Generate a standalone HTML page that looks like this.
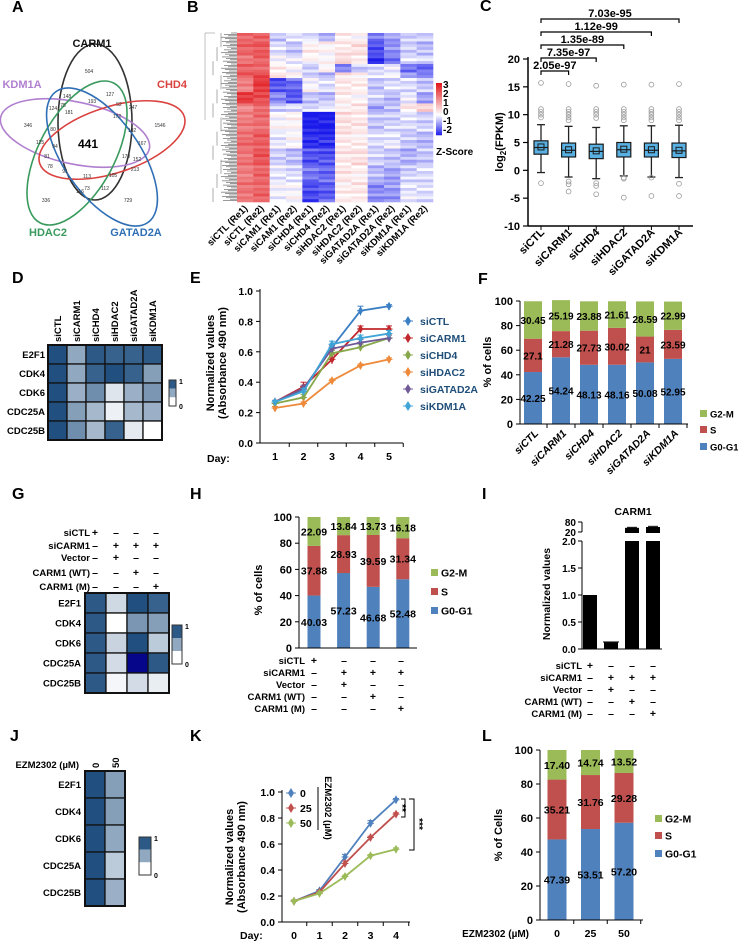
<!DOCTYPE html>
<html><head><meta charset="utf-8"><style>
html,body{margin:0;padding:0;background:#fff;}
svg{display:block;font-family:"Liberation Sans",Arial,sans-serif;}
text{font-family:"Liberation Sans",Arial,sans-serif;}
</style></head><body>
<svg id="fig" width="738" height="944" viewBox="0 0 738 944" xmlns="http://www.w3.org/2000/svg">
<rect width="738" height="944" fill="#fff"/>
<g font-weight="bold" font-size="16" fill="#000">
<text x="12" y="12">A</text>
<text x="187" y="12">B</text>
<text x="480" y="11">C</text>
<text x="12" y="283">D</text>
<text x="190" y="283">E</text>
<text x="478" y="284">F</text>
<text x="12" y="499">G</text>
<text x="190" y="499">H</text>
<text x="482" y="499">I</text>
<text x="10" y="741">J</text>
<text x="190" y="741">K</text>
<text x="482" y="741">L</text>
</g>
<g fill="none" stroke-width="1.6">
<ellipse cx="95" cy="122" rx="37" ry="78" stroke="#333"/>
<ellipse cx="75" cy="133" rx="76" ry="31" transform="rotate(12 75 133)" stroke="#b07fd0"/>
<ellipse cx="112" cy="140" rx="76" ry="33" transform="rotate(-18 112 140)" stroke="#d9423f"/>
<ellipse cx="77" cy="153" rx="38" ry="79" transform="rotate(28 77 153)" stroke="#3a9a5e"/>
<ellipse cx="102" cy="157" rx="38" ry="80" transform="rotate(-35 102 157)" stroke="#2f6fb5"/>
</g>
<g font-weight="bold" font-size="11" text-anchor="middle">
<text x="92" y="47" fill="#111">CARM1</text>
<text x="22" y="88" fill="#b07fd0">KDM1A</text>
<text x="172" y="88" fill="#d9423f">CHD4</text>
<text x="48" y="236" fill="#3a9a5e">HDAC2</text>
<text x="136" y="236" fill="#2f6fb5">GATAD2A</text>
<text x="88" y="148" font-size="12" fill="#000">441</text>
</g>
<g id="vennNums" font-size="5" text-anchor="middle" fill="#333"></g>
<g id="dyn"></g>
</svg>
<script>
const NS='http://www.w3.org/2000/svg';
const root=document.getElementById('dyn');
function mk(tag,attrs,parent){const e=document.createElementNS(NS,tag);for(const k in attrs)e.setAttribute(k,attrs[k]);(parent||root).appendChild(e);return e;}
function txt(x,y,s,attrs,parent){const e=mk('text',Object.assign({x:x,y:y},attrs||{}),parent);e.textContent=s;return e;}
function nm(e,n){
return e;}

const vennNums=[['504',89,73],['148',67,98],['127',110,96],['193',92,103],['52',119,106],['247',133,109],['124',53,110],['75',63,107],['181',69,114],['172',117,118],['346',28,127],['1546',160,127],['80',53,131],['102',132,132],['125',40,144],['94',55,148],['167',142,145],['81',47,158],['170',126,158],['152',137,161],['78',50,168],['91',65,173],['113',87,178],['105',113,177],['213',135,171],['73',87,190],['116',80,193],['112',105,190],['336',46,202],['729',128,202]];
const vg=document.getElementById('vennNums');
vennNums.forEach(v=>{const t=txt(v[1],v[2],v[0],{},vg);nm(t,'venn-count');});

const bCols=['siCTL (Re1)','siCTL (Re2)','siCAM1 (Re1)','siCAM1 (Re2)','siCHD4 (Re1)','siCHD4 (Re2)','siHDAC2 (Re1)','siHDAC2 (Re2)','siGATAD2A (Re1)','siGATAD2A (Re2)','siKDM1A (Re1)','siKDM1A (Re2)'];
const bBandRows=[3,5,3,3,2,5,4,3,7,6,6,6,7];
const bBandVals=[
[2.0,2.0,-0.5,-0.3,-0.3,-0.6,0.2,0.1,-1.2,-0.8,-0.5,-0.4],
[2.0,2.2,-0.3,-0.5,0.2,0.1,0.3,0.4,-1.5,-1.0,-0.4,-0.6],
[1.8,2.0,0.0,-0.2,0.1,0.0,0.5,0.3,-1.8,-1.2,-0.3,-0.3],
[2.0,2.0,0.2,0.0,-0.5,0.1,-1.0,-0.5,-0.3,-0.2,-1.2,-1.4],
[2.2,2.3,0.3,0.2,-0.4,-0.6,0.3,0.2,-0.3,-0.1,-0.8,-1.0],
[1.6,2.6,-1.5,-1.3,0.0,-0.3,0.3,0.2,-0.5,-0.3,-0.3,-0.5],
[2.6,2.3,-1.0,-1.5,-0.5,-0.6,0.2,0.1,-0.4,-0.6,-0.2,-0.8],
[1.5,2.0,-0.5,-0.3,-0.4,-0.2,0.2,0.3,-0.8,-0.6,0.3,0.5],
[1.7,1.9,0.0,0.1,-2.0,-2.0,0.4,0.3,-0.5,-0.4,-0.3,-0.4],
[1.9,2.1,-0.2,0.0,-1.8,-1.8,0.3,0.2,-0.3,-0.2,-0.5,-0.6],
[1.8,2.2,-0.4,-0.6,-1.5,-1.5,0.3,0.4,-0.4,-0.5,-0.7,-0.5],
[1.7,2.0,-0.2,-0.3,-1.2,-1.3,0.3,0.2,-0.6,-0.8,-0.4,-0.3],
[1.8,2.0,-0.1,0.0,-1.6,-1.4,0.2,0.3,-1.0,-0.9,-0.2,-0.3]];
const bTexture=[0.2,-0.3,0.1,-0.1,0.35,-0.2,0.0];
const bZticks=['3','2','1','0','-1','-2'];
function zcol(z){z=Math.max(-2,Math.min(3,z));let r,g,b;
 if(z>=0){const t=z/3;r=255-(255-225)*t;g=255-(255-25)*t;b=255-(255-30)*t;}
 else{const t=-z/2;r=255-(255-25)*t;g=255-(255-25)*t;b=255-(255-235)*t;}
 return 'rgb('+Math.round(r)+','+Math.round(g)+','+Math.round(b)+')';}
(function(){
 const x0=237,x1=433,y0=33,y1=202;const cw=(x1-x0)/bCols.length;
 const nRows=bBandRows.reduce((a,b)=>a+b,0);const rh=(y1-y0)/nRows;
 const g=nm(mk('g',{}),'expression-heatmap');
 let r=0;
 bBandRows.forEach((n,bi)=>{for(let k=0;k<n;k++){bBandVals[bi].forEach((v,c)=>{
   const z=v+bTexture[(r+c*3)%7]*0.9;
   const cell=mk('rect',{x:x0+c*cw,y:y0+r*rh,width:cw+0.3,height:rh+0.3,fill:zcol(z)},g);
   nm(cell,'heatmap-cell');});r++;}});
 const dg=nm(mk('g',{stroke:'#555','stroke-width':0.6}),'row-dendrogram');
 for(let i=0;i<nRows*2;i++){const y=y0+i*rh/2;const len=6+((i*7)%11);mk('line',{x1:x0-len,y1:y,x2:x0,y2:y},dg);}
 for(let i=0;i<12;i++){const y=y0+i*(y1-y0)/12;mk('line',{x1:x0-16-(i%3)*4,y1:y,x2:x0-16-(i%3)*4,y2:y+(y1-y0)/12,stroke:'#777'},dg);}
 mk('line',{x1:205,y1:33,x2:205,y2:120,stroke:'#999'},dg);mk('line',{x1:205,y1:33,x2:215,y2:33,stroke:'#999'},dg);
 bCols.forEach((c,i)=>{const cx=x0+(i+0.5)*cw+3;const t=txt(cx,y1+7,c,{'text-anchor':'end','font-size':9.5,'font-weight':'bold',transform:'rotate(-45 '+cx+' '+(y1+7)+')'});nm(t,'heatmap-column-label');});
 const cb=nm(mk('g',{}),'zscore-colorbar');
 for(let i=0;i<40;i++){const z=3-5*i/40;mk('rect',{x:436,y:83+i*52/40,width:6,height:52/40+0.3,fill:zcol(z)},cb);}
 bZticks.forEach((s,i)=>{const t=txt(443,88+i*9,s,{'font-size':10,'font-weight':'bold'},cb);nm(t,'colorbar-tick');});
 const zt=txt(436,155,'Z-Score',{'font-size':10,'font-weight':'bold'});nm(zt,'colorbar-title');
})();

const cCats=['siCTL','siCARM1','siCHD4','siHDAC2','siGATAD2A','siKDM1A'];
const cQ1=[2.9,2.4,2.1,2.4,2.4,2.3];
const cMed=[4.1,3.6,3.4,3.7,3.6,3.5];
const cQ3=[5.3,4.9,4.7,5.0,4.9,4.9];
const cLo=[-0.4,-1.2,-1.5,-1.0,-1.2,-1.3];
const cHi=[8.2,7.9,7.7,8.0,8.0,8.1];
const cMean=[4.2,3.7,3.5,3.8,3.7,3.6];
const cOut=[[-2.3,9.5,10,10.5,11,15.7],[-2,-2.5,-3.8,9,9.5,10,10.5,11,15.5],[-2.3,-2.8,-4.3,9.4,10,10.5,11,15.2],[-1.3,-1.5,-4.9,9,9.5,10,10.5,11,15.4],[-1.3,-4.6,9,9.5,10,10.5,11,15.4],[-2.4,-4.6,9,9.5,10,10.5,11,15.5]];
const cTicks=[20,15,10,5,0,-5,-10];
const cPvals=['2.05e-97','7.35e-97','1.35e-89','1.12e-99','7.03e-95'];
(function(){
 const yS=v=>59+(20-v)*(226-59)/30, xS=i=>541+i*27.6;
 const g=nm(mk('g',{}),'boxplot-chart');
 nm(mk('line',{x1:528,y1:57,x2:528,y2:226,stroke:'#000','stroke-width':1.5},g),'y-axis');
 nm(mk('line',{x1:528,y1:226,x2:693,y2:226,stroke:'#000','stroke-width':1.5},g),'x-axis');
 cTicks.forEach(v=>{mk('line',{x1:523,y1:yS(v),x2:528,y2:yS(v),stroke:'#000','stroke-width':1.2},g);nm(txt(520,yS(v)+4,String(v),{'text-anchor':'end','font-size':11,'font-weight':'bold'},g),'y-tick-label');});
 const yt=txt(0,0,'',{'font-size':11,'font-weight':'bold','text-anchor':'middle',transform:'translate(503 142) rotate(-90)'},g);nm(yt,'y-axis-title');
 yt.innerHTML='log<tspan font-size="8" dy="3">2</tspan><tspan dy="-3">(FPKM)</tspan>';
 cCats.forEach((c,i)=>{const x=xS(i);
  mk('line',{x1:x,y1:226,x2:x,y2:230,stroke:'#000'},g);
  mk('line',{x1:x,y1:yS(cHi[i]),x2:x,y2:yS(cLo[i]),stroke:'#222','stroke-width':1.3},g);
  mk('line',{x1:x-4,y1:yS(cHi[i]),x2:x+4,y2:yS(cHi[i]),stroke:'#222','stroke-width':1.3},g);
  mk('line',{x1:x-4,y1:yS(cLo[i]),x2:x+4,y2:yS(cLo[i]),stroke:'#222','stroke-width':1.3},g);
  nm(mk('rect',{x:x-7,y:yS(cQ3[i]),width:14,height:yS(cQ1[i])-yS(cQ3[i]),fill:'#58b0e3',stroke:'#1a1a1a','stroke-width':1.2},g),'box-'+c);
  mk('line',{x1:x-7,y1:yS(cMed[i]),x2:x+7,y2:yS(cMed[i]),stroke:'#1a1a1a','stroke-width':1.2},g);
  nm(mk('rect',{x:x-3,y:yS(cMean[i])-3,width:6,height:6,fill:'none',stroke:'#1a1a1a'},g),'mean-marker');
  cOut[i].forEach(o=>nm(mk('circle',{cx:x,cy:yS(o),r:2.4,fill:'none',stroke:'#999','stroke-width':0.8},g),'outlier'));
  nm(txt(x+4,233,c,{'text-anchor':'end','font-size':11,'font-weight':'bold',transform:'rotate(-45 '+(x+4)+' 233)'},g),'x-tick-label');
 });
 cPvals.forEach((p,k)=>{const y=71-k*13;const xa=xS(0),xb=xS(k+1);
  nm(mk('path',{d:'M'+xa+' '+(y+4)+'V'+y+'H'+xb+'V'+(y+4),fill:'none',stroke:'#000','stroke-width':1.2},g),'significance-bracket');
  nm(txt((xa+xb)/2,y-2,p,{'text-anchor':'middle','font-size':11,'font-weight':'bold'},g),'p-value-label');});
})();

function hcol(v){if(v>1.2)return '#06068a';v=Math.max(0,Math.min(1,v));const r=255-(255-33)*v,g=255-(255-80)*v,b=255-(255-128)*v;return 'rgb('+Math.round(r)+','+Math.round(g)+','+Math.round(b)+')';}
function smallHeat(name,vals,rows,x0,y0,cw,rh,lblX){
 const g=nm(mk('g',{}),name);
 vals.forEach((row,r)=>row.forEach((v,c)=>nm(mk('rect',{x:x0+c*cw,y:y0+r*rh,width:cw,height:rh,fill:hcol(v),stroke:'#111','stroke-width':1.3},g),'heatmap-cell')));
 mk('rect',{x:x0,y:y0,width:cw*vals[0].length,height:rh*vals.length,fill:'none',stroke:'#111','stroke-width':2},g);
 rows.forEach((s,r)=>nm(txt(lblX,y0+r*rh+rh/2+3.5,s,{'text-anchor':'end','font-size':9.5,'font-weight':'bold'},g),'row-label'));
 return g;}
function scaleBar(name,x,y,w,h){const g=nm(mk('g',{}),name);
 mk('rect',{x:x,y:y,width:w,height:h/3,fill:hcol(0.95)},g);mk('rect',{x:x,y:y+h/3,width:w,height:h/3,fill:hcol(0.5)},g);mk('rect',{x:x,y:y+2*h/3,width:w,height:h/3,fill:'#fff'},g);
 mk('rect',{x:x,y:y,width:w,height:h,fill:'none',stroke:'#333','stroke-width':1},g);
 txt(x+w+3,y+4,'1',{'font-size':7,'font-weight':'bold'},g);txt(x+w+3,y+h+3,'0',{'font-size':7,'font-weight':'bold'},g);}
const geneRows=['E2F1','CDK4','CDK6','CDC25A','CDC25B'];

const dCols=['siCTL','siCARM1','siCHD4','siHDAC2','siGATAD2A','siKDM1A'];
const dVals=[[1,0.5,0.95,0.9,0.9,0.95],[1,0.5,0.9,1,0.9,0.55],[1,0.45,0.65,0.15,0.45,0.6],[1,0.55,0.4,0.08,0.4,0.45],[1,0.65,0.4,0.9,0.12,0]];
(function(){smallHeat('heatmap-d',dVals,geneRows,48,345,19,19,45);
 dCols.forEach((c,i)=>{const x=48+i*19+13;nm(txt(x,342,c,{'font-size':9.5,'font-weight':'bold',transform:'rotate(-90 '+x+' 342)'}),'column-label');});
 scaleBar('heatmap-d-scale',169,380,7,26);})();

const eDays=['1','2','3','4','5'];
const eNames=['siCTL','siCARM1','siCHD4','siHDAC2','siGATAD2A','siKDM1A'];
const eColors=['#3a7ec4','#c0282d','#86a84a','#ee8a3a','#6f5a96','#3fa4d6'];
const eVals=[[0.27,0.35,0.63,0.87,0.90],[0.27,0.37,0.55,0.75,0.75],[0.26,0.30,0.59,0.63,0.69],[0.23,0.26,0.41,0.51,0.55],[0.27,0.36,0.62,0.66,0.69],[0.27,0.34,0.65,0.69,0.72]];
const eErr=[[0.01,0.02,0.02,0.03,0.01],[0.01,0.03,0.03,0.02,0.02],[0.01,0.02,0.02,0.02,0.02],[0.01,0.01,0.01,0.01,0.01],[0.01,0.02,0.02,0.02,0.02],[0.01,0.02,0.02,0.02,0.02]];
const eTicks=[1.0,0.8,0.6,0.4,0.2,0.0];
function lineChart(name,days,vals,errs,colors,ticks,yS,xS,axX,axY,axR,tickX){
 const g=nm(mk('g',{}),name);
 nm(mk('line',{x1:axX,y1:yS(ticks[0])-2,x2:axX,y2:axY,stroke:'#000','stroke-width':1},g),'y-axis');
 nm(mk('line',{x1:axX,y1:axY,x2:axR,y2:axY,stroke:'#000','stroke-width':1},g),'x-axis');
 ticks.forEach(v=>{mk('line',{x1:axX-4,y1:yS(v),x2:axX,y2:yS(v),stroke:'#000'},g);nm(txt(tickX,yS(v)+4,v.toFixed(1),{'text-anchor':'end','font-size':10.5,'font-weight':'bold'},g),'y-tick-label');});
 const step=xS(1)-xS(0);
 days.forEach((d,i)=>{mk('line',{x1:xS(i)+step/2,y1:axY,x2:xS(i)+step/2,y2:axY+4,stroke:'#000'},g);nm(txt(xS(i),axY+17,d,{'text-anchor':'middle','font-size':10.5,'font-weight':'bold'},g),'x-tick-label');});
 vals.forEach((s,k)=>{const pts=s.map((v,i)=>xS(i)+','+yS(v)).join(' ');
  nm(mk('polyline',{points:pts,fill:'none',stroke:colors[k],'stroke-width':1.8},g),'series-line');
  s.forEach((v,i)=>{const x=xS(i),y=yS(v),e=errs[k][i];
   mk('line',{x1:x,y1:yS(v+e),x2:x,y2:yS(v-e),stroke:colors[k]},g);mk('line',{x1:x-3,y1:yS(v+e),x2:x+3,y2:yS(v+e),stroke:colors[k]},g);
   nm(mk('path',{d:'M'+x+' '+(y-3.5)+'L'+(x+2)+' '+y+'L'+x+' '+(y+3.5)+'L'+(x-2)+' '+y+'Z M'+(x-3.5)+' '+y+'H'+(x+3.5),fill:colors[k],stroke:colors[k],'stroke-width':1},g),'data-point');});});
 return g;}
(function(){const yS=v=>443-v*152,xS=i=>275+i*28.5;
 const g=lineChart('growth-chart-e',eDays,eVals,eErr,eColors,eTicks,yS,xS,260,443,403,253);
 nm(txt(207,462,'Day:',{'font-size':10.5,'font-weight':'bold'},g),'x-axis-title');
 nm(txt(0,0,'Normalized values',{'font-size':11,'font-weight':'bold','text-anchor':'middle',transform:'translate(214 363) rotate(-90)'},g),'y-axis-title');
 nm(txt(0,0,'(Absorbance 490 nm)',{'font-size':11,'font-weight':'bold','text-anchor':'middle',transform:'translate(226 363) rotate(-90)'},g),'y-axis-title-2');
 eNames.forEach((n,k)=>{const y=321+k*17;const lg=nm(mk('g',{},g),'legend-entry');
  mk('path',{d:'M408 '+(y-4)+'L410.5 '+y+'L408 '+(y+4)+'L405.5 '+y+'Z M403 '+y+'H413',fill:eColors[k],stroke:eColors[k]},lg);
  txt(420,y+4,n,{'font-size':10.5,'font-weight':'bold',fill:'#1f4e79'},lg);});})();

const phaseNames=['G0-G1','S','G2-M'];
const phaseColors=['#4f81bd','#c0504d','#9bbb59'];
function stacked(name,series,labels,xS,bw,yS,axX,axY,axR,ticks,fs){
 const g=nm(mk('g',{}),name);
 series[0].forEach((_,i)=>{let acc=0;series.forEach((s,k)=>{const v=s[i];
   nm(mk('rect',{x:xS(i)-bw/2,y:yS(acc+v),width:bw,height:yS(acc)-yS(acc+v),fill:phaseColors[k]},g),'bar-'+phaseNames[k]);
   nm(txt(xS(i),yS(acc+v/2)+4,labels?labels[k][i]:String(v),{'text-anchor':'middle','font-size':fs,'font-weight':'bold'},g),'bar-value');acc+=v;});});
 nm(mk('line',{x1:axX,y1:yS(100),x2:axX,y2:axY,stroke:'#000'},g),'y-axis');
 nm(mk('line',{x1:axX,y1:axY,x2:axR,y2:axY,stroke:'#000'},g),'x-axis');
 ticks.forEach(v=>{mk('line',{x1:axX-4,y1:yS(v),x2:axX,y2:yS(v),stroke:'#000'},g);nm(txt(axX-7,yS(v)+4,String(v),{'text-anchor':'end','font-size':11,'font-weight':'bold'},g),'y-tick-label');});
 return g;}
function legend3(g,x,ys,fs){[2,1,0].forEach((k,j)=>{const lg=nm(mk('g',{},g),'legend-entry');mk('rect',{x:x,y:ys[j]-4,width:7,height:7,fill:phaseColors[k]},lg);txt(x+10,ys[j]+3.5,phaseNames[k],{'font-size':fs||10.5,'font-weight':'bold'},lg);});}

const fCats=['siCTL','siCARM1','siCHD4','siHDAC2','siGATAD2A','siKDM1A'];
const fG1=[42.25,54.24,48.13,48.16,50.08,52.95];
const fS=[27.1,21.28,27.73,30.02,21,23.59];
const fG2=[30.45,25.19,23.88,21.61,28.59,22.99];
const fTicks=[0,20,40,60,80,100];
(function(){const yS=v=>424-v*1.23,xS=i=>533+i*28;
 const g=stacked('cell-cycle-chart-f',[fG1,fS,fG2],null,xS,18,yS,520,424,688,fTicks,10);
 fCats.forEach((c,i)=>{mk('line',{x1:xS(i)+14,y1:424,x2:xS(i)+14,y2:428,stroke:'#000'},g);nm(txt(xS(i)+6,434,c,{'text-anchor':'end','font-size':10.5,'font-style':'italic','font-weight':'bold',transform:'rotate(-45 '+(xS(i)+6)+' 434)'},g),'x-tick-label');});
 nm(txt(0,0,'% of cells',{'font-size':11,'font-weight':'bold','text-anchor':'middle',transform:'translate(491 362) rotate(-90)'},g),'y-axis-title');
 legend3(g,700,[414,430,447],9.5);})();

const signLabels=['siCTL','siCARM1','Vector','CARM1 (WT)','CARM1 (M)'];
const signTable=[['+','-','-','-'],['-','+','+','+'],['-','+','-','-'],['-','-','+','-'],['-','-','-','+']];
function signs(name,ys,xs,lblX,fs){const g=nm(mk('g',{}),name);
 signLabels.forEach((l,r)=>{nm(txt(lblX,ys[r]+4,l,{'text-anchor':'end','font-size':fs,'font-weight':'bold'},g),'condition-label');
  signTable[r].forEach((s,c)=>nm(txt(xs[c],ys[r]+4,s==='-'?'–':'+',{'text-anchor':'middle','font-size':fs+1,'font-weight':'bold'},g),'condition-sign'));});}
const gVals=[[0.95,0.22,1,0.9],[0.95,0,0.6,0.55],[0.95,0.25,1.02,0.3],[0.95,0.2,1.5,0.95],[0.95,0.05,0.2,0.1]];
(function(){signs('conditions-g',[532,545,557,572,586],[95,116,136,156],90,9.5);
 smallHeat('heatmap-g',gVals,geneRows,85,593,21,20,81);scaleBar('heatmap-g-scale',172,625,10,39);})();

const hG1=[40.03,57.23,46.68,52.48];
const hS=[37.88,28.93,39.59,31.34];
const hG2=[22.09,13.84,13.73,16.18];
const hTicks=[0,20,40,60,80,100];
(function(){const yS=v=>648-v*1.31,xS=i=>314+i*29.6;
 const g=stacked('cell-cycle-chart-h',[hG1,hS,hG2],null,xS,13,yS,299,648,417,hTicks,10.5);
 nm(txt(0,0,'% of cells',{'font-size':11,'font-weight':'bold','text-anchor':'middle',transform:'translate(262 590) rotate(-90)'},g),'y-axis-title');
 legend3(g,431,[573,592,611]);
 signs('conditions-h',[660,672,684,696,708],[314,344,373,401],305,9.5);})();

const iVals=[1.0,0.12,45,50];
const iErr=[0,0.01,3,4];
const iLowTicks=[0.0,0.5,1.0,1.5,2.0];
const iHighTicks=[20,80];
(function(){const yL=v=>649-v*54,yH=v=>532-(v-20)/60*10,xS=i=>590+i*21;
 const g=nm(mk('g',{}),'carm1-bar-chart');
 nm(txt(633,515,'CARM1',{'text-anchor':'middle','font-size':10.5,'font-weight':'bold'},g),'chart-title');
 iVals.forEach((v,i)=>{const x=xS(i)-7;
  if(v<=2){nm(mk('rect',{x:x,y:yL(v),width:14,height:649-yL(v),fill:'#000'},g),'bar');
   if(iErr[i])mk('line',{x1:x-1,y1:yL(v+iErr[i]),x2:x+15,y2:yL(v+iErr[i]),stroke:'#000'},g);}
  else{nm(mk('rect',{x:x,y:yL(2),width:14,height:649-yL(2),fill:'#000'},g),'bar');
   nm(mk('rect',{x:x,y:yH(v),width:14,height:yH(20)-yH(v)+1,fill:'#000'},g),'bar-upper');
   mk('line',{x1:x+2,y1:yH(v+iErr[i]),x2:x+12,y2:yH(v+iErr[i]),stroke:'#000'},g);}});
 nm(mk('line',{x1:582,y1:yL(2),x2:582,y2:649,stroke:'#000'},g),'y-axis-lower');
 nm(mk('line',{x1:582,y1:yH(80),x2:582,y2:yH(20),stroke:'#000'},g),'y-axis-upper');
 nm(mk('line',{x1:582,y1:649,x2:662,y2:649,stroke:'#000'},g),'x-axis');
 iLowTicks.forEach(v=>{mk('line',{x1:578,y1:yL(v),x2:582,y2:yL(v),stroke:'#000'},g);nm(txt(576,yL(v)+4,v.toFixed(1),{'text-anchor':'end','font-size':10,'font-weight':'bold'},g),'y-tick-label');});
 iHighTicks.forEach(v=>{mk('line',{x1:578,y1:yH(v),x2:582,y2:yH(v),stroke:'#000'},g);nm(txt(576,yH(v)+4,String(v),{'text-anchor':'end','font-size':10,'font-weight':'bold'},g),'y-tick-label');});
 nm(txt(0,0,'Normalized values',{'font-size':10.5,'font-weight':'bold','text-anchor':'middle',transform:'translate(550 594) rotate(-90)'},g),'y-axis-title');
 signs('conditions-i',[665,677,689,701,713],[590,611,632,653],582,9.5);})();

const jCols=['0','50'];
const jVals=[[1,0.55],[1,0.55],[1,0.5],[1,0.3],[1,0.45]];
(function(){smallHeat('heatmap-j',jVals,geneRows,85,771,20,27,81);
 nm(txt(79,768,'EZM2302 (µM)',{'text-anchor':'end','font-size':9.5,'font-weight':'bold'}),'treatment-label');
 jCols.forEach((c,i)=>{const x=85+i*20+14;nm(txt(x,768,c,{'font-size':9.5,'font-weight':'bold',transform:'rotate(-90 '+x+' 768)'}),'column-label');});
 scaleBar('heatmap-j-scale',139,837,12,38);})();

const kDays=['0','1','2','3','4'];
const kNames=['0','25','50'];
const kColors=['#4f81bd','#c0504d','#9bbb59'];
const kVals=[[0.16,0.24,0.50,0.76,0.94],[0.16,0.23,0.45,0.65,0.83],[0.16,0.22,0.35,0.51,0.56]];
const kErr=[[0.01,0.01,0.02,0.02,0.01],[0.01,0.01,0.02,0.01,0.01],[0.01,0.01,0.01,0.01,0.01]];
const kTicks=[1.0,0.8,0.6,0.4,0.2,0.0];
(function(){const yS=v=>922-v*130,xS=i=>294+i*25.5;
 const g=lineChart('growth-chart-k',kDays,kVals,kErr,kColors,kTicks,yS,xS,282,922,410,275);
 nm(txt(240,939,'Day:',{'font-size':10.5,'font-weight':'bold'},g),'x-axis-title');
 nm(txt(0,0,'Normalized values',{'font-size':11,'font-weight':'bold','text-anchor':'middle',transform:'translate(233 857) rotate(-90)'},g),'y-axis-title');
 nm(txt(0,0,'(Absorbance 490 nm)',{'font-size':11,'font-weight':'bold','text-anchor':'middle',transform:'translate(245 857) rotate(-90)'},g),'y-axis-title-2');
 kNames.forEach((n,k)=>{const y=793+k*15;const lg=nm(mk('g',{},g),'legend-entry');
  mk('path',{d:'M291 '+(y-4)+'L293.5 '+y+'L291 '+(y+4)+'L288.5 '+y+'Z M286 '+y+'H296',fill:kColors[k],stroke:kColors[k]},lg);
  txt(300,y+4,n,{'font-size':10.5,'font-weight':'bold'},lg);});
 mk('line',{x1:318,y1:787,x2:318,y2:830,stroke:'#000'},g);
 nm(txt(0,0,'EZM2302 (µM)',{'font-size':9.5,'font-weight':'bold','text-anchor':'middle',transform:'translate(325 808) rotate(90)'},g),'legend-title');
 mk('path',{d:'M401 799H405V817H401',fill:'none',stroke:'#000'},g);
 nm(txt(0,0,'**',{'font-size':10,'font-weight':'bold','text-anchor':'middle',transform:'translate(399 808) rotate(90)'},g),'significance-stars');
 mk('path',{d:'M409 799H414V850H409',fill:'none',stroke:'#000'},g);
 nm(txt(0,0,'***',{'font-size':10,'font-weight':'bold','text-anchor':'middle',transform:'translate(416 824) rotate(90)'},g),'significance-stars');})();

const lCats=['0','25','50'];
const lG1=[47.39,53.51,57.20];
const lS=[35.21,31.76,29.28];
const lG2=[17.40,14.74,13.52];
const lLabels=[lG1.map(v=>v.toFixed(2)),lS.map(v=>v.toFixed(2)),lG2.map(v=>v.toFixed(2))];
const lTicks=[0,20,40,60,80,100];
(function(){const yS=v=>920-v*1.7,xS=i=>557+i*33.5;
 const g=stacked('cell-cycle-chart-l',[lG1,lS,lG2],lLabels,xS,19,yS,540,920,643,lTicks,10.5);
 lCats.forEach((c,i)=>{mk('line',{x1:xS(i)+16.75,y1:920,x2:xS(i)+16.75,y2:924,stroke:'#000'},g);nm(txt(xS(i),937,c,{'text-anchor':'middle','font-size':10.5,'font-weight':'bold'},g),'x-tick-label');});
 nm(txt(529,937,'EZM2302 (µM)',{'text-anchor':'end','font-size':10,'font-weight':'bold'},g),'x-axis-title');
 nm(txt(0,0,'% of Cells',{'font-size':11,'font-weight':'bold','text-anchor':'middle',transform:'translate(502 835) rotate(-90)'},g),'y-axis-title');
 legend3(g,655,[819,836,854]);})();
</script>
</body></html>
